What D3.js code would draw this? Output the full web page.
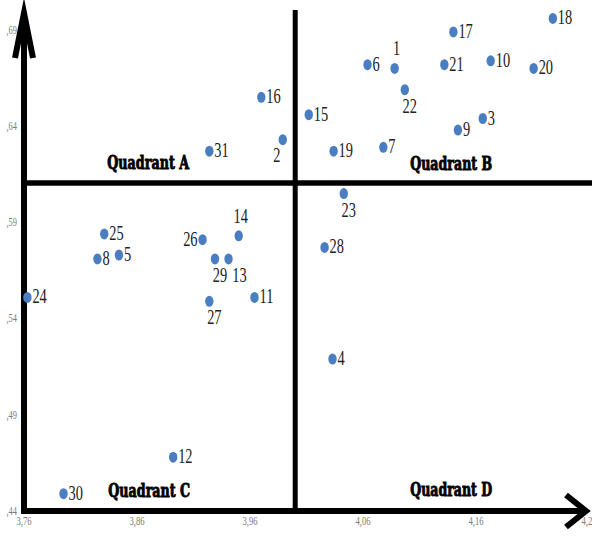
<!DOCTYPE html>
<html>
<head>
<meta charset="utf-8">
<script src="https://cdn.jsdelivr.net/npm/d3@7"></script>
<style>
  html, body { margin: 0; padding: 0; background: #fff; }
  svg { display: block; }
</style>
</head>
<body>
<svg id="chart" width="592" height="538"></svg>
<script>
// ---- data ----
const ids = [1,2,3,4,5,6,7,8,9,10,11,12,13,14,15,16,17,18,19,20,21,22,23,24,25,26,27,28,29,30,31];
const xValues = [4.088,3.989,4.166,4.033,3.844,4.064,4.078,3.825,4.144,4.173,3.964,3.892,3.941,3.950,4.012,3.970,4.140,4.228,4.034,4.211,4.132,4.097,4.043,3.763,3.831,3.918,3.924,4.026,3.929,3.795,3.924];
const yValues = [0.670,0.633,0.644,0.519,0.573,0.672,0.629,0.571,0.638,0.674,0.551,0.468,0.571,0.583,0.646,0.655,0.689,0.696,0.627,0.670,0.672,0.659,0.605,0.551,0.584,0.581,0.549,0.577,0.571,0.449,0.627];
// where each point's number is written relative to its dot
const labelSide = ["t","bl","r","r","r","r","r","r","r","r","r","r","br","t","r","r","r","r","r","r","r","b","b","r","r","l","b","r","b","r","r"];
const xTickValues = [3.76,3.86,3.96,4.06,4.16,4.26];
const xTickLabels = ["3,76","3,86","3,96","4,06","4,16","4,26"];
const yTickValues = [0.44,0.49,0.54,0.59,0.64,0.69];
const yTickLabels = [",44",",49",",54",",59",",64",",69"];
const xSplit = 4.0;
const ySplit = 0.6105;
const quadrantNames = ["Quadrant A","Quadrant B","Quadrant C","Quadrant D"];

// ---- scales ----
const svg = d3.select("#chart");
const x = d3.scaleLinear().domain([3.76, 4.26]).range([24, 589]);
const y = d3.scaleLinear().domain([0.44, 0.69]).range([511, 30]);

// ---- tick labels ----
const xAxis = d3.axisBottom(x).tickValues(xTickValues)
  .tickFormat((d,i) => xTickLabels[i]).tickSize(0).tickPadding(0);
const gx = svg.append("g").attr("transform", "translate(0,516)").call(xAxis);
gx.select(".domain").remove();
gx.selectAll("text").attr("fill", "#7a7a7a").attr("font-family", "Liberation Serif")
  .attr("font-size", 12).attr("dy", "0.71em");
gx.selectAll(".tick").attr("transform", d => `translate(${x(d)},0) scale(0.72,1)`);

const yAxis = d3.axisLeft(y).tickValues(yTickValues)
  .tickFormat((d,i) => yTickLabels[i]).tickSize(0).tickPadding(0);
const gy = svg.append("g").attr("transform", "translate(17,0)").call(yAxis);
gy.select(".domain").remove();
gy.selectAll("text").attr("fill", "#7a7a7a").attr("font-family", "Liberation Serif")
  .attr("font-size", 12);
gy.selectAll(".tick").attr("transform", d => `translate(0,${y(d)}) scale(0.7,1)`);

// ---- quadrant lines ----
const x0 = x(3.76), yB = y(0.44);
svg.append("line")
  .attr("x1", x(xSplit)).attr("x2", x(xSplit)).attr("y1", 10).attr("y2", yB)
  .attr("stroke", "#000").attr("stroke-width", 5);
svg.append("line")
  .attr("x1", x0).attr("x2", 592).attr("y1", y(ySplit)).attr("y2", y(ySplit))
  .attr("stroke", "#000").attr("stroke-width", 5.5);

// ---- axes with arrows ----
svg.append("path")
  .attr("d", `M${x0},${yB + 3}V12`)
  .attr("stroke", "#000").attr("stroke-width", 6).attr("fill", "none");
svg.append("path")
  .attr("d", `M${x0 - 9},58L${x0},13L${x0 + 9},58`)
  .attr("stroke", "#000").attr("stroke-width", 6).attr("fill", "none")
  .attr("stroke-linejoin", "miter").attr("stroke-miterlimit", 10);
svg.append("path")
  .attr("d", `M${x0 - 3},${yB}H586`)
  .attr("stroke", "#000").attr("stroke-width", 6).attr("fill", "none");
svg.append("path")
  .attr("d", `M566,${yB - 16}L586,${yB}L566,${yB + 16}`)
  .attr("stroke", "#000").attr("stroke-width", 6).attr("fill", "none")
  .attr("stroke-linejoin", "miter").attr("stroke-miterlimit", 10);

// ---- quadrant labels ----
const xs = x(xSplit), ys = y(ySplit);
const qPos = [[xs - 147, ys - 14], [xs + 156, ys - 13], [xs - 146, yB - 14], [xs + 156, yB - 15]];
const qText = svg.selectAll("text.quad").data(quadrantNames).join("text")
  .attr("class", "quad")
  .attr("text-anchor", "middle")
  .attr("font-family", "DejaVu Serif").attr("font-weight", "bold").attr("font-size", 18)
  .attr("fill", "#000").attr("stroke", "#000").attr("stroke-width", 0.9)
  .text(d => d);
qText.each(function(d, i) {
  const w = this.getComputedTextLength() || 120;
  const sx = 82 / w;
  d3.select(this).attr("transform", `translate(${qPos[i][0]},${qPos[i][1]}) scale(${sx},1)`);
});

// ---- points ----
const pts = ids.map((id, i) => ({ id, x: xValues[i], y: yValues[i], side: labelSide[i] }));
svg.selectAll("ellipse.pt").data(pts).join("ellipse")
  .attr("class", "pt")
  .attr("cx", d => x(d.x)).attr("cy", d => y(d.y))
  .attr("rx", 4.2).attr("ry", 5.5)
  .attr("fill", "#4A7EC1");

const off = {
  r: [5, 6, "start"],
  l: [-5, 6, "end"],
  t: [2, -13, "middle"],
  b: [5, 23, "middle"],
  br: [11, 23, "middle"],
  bl: [-6, 22, "middle"]
};
svg.selectAll("text.lbl").data(pts).join("text")
  .attr("class", "lbl")
  .attr("transform", d => `translate(${x(d.x) + off[d.side][0]},${y(d.y) + off[d.side][1]}) scale(0.72,1)`)
  .attr("text-anchor", d => off[d.side][2])
  .attr("font-family", "Liberation Serif").attr("font-size", 20)
  .attr("fill", "#222")
  .text(d => d.id);
</script>
</body>
</html>
